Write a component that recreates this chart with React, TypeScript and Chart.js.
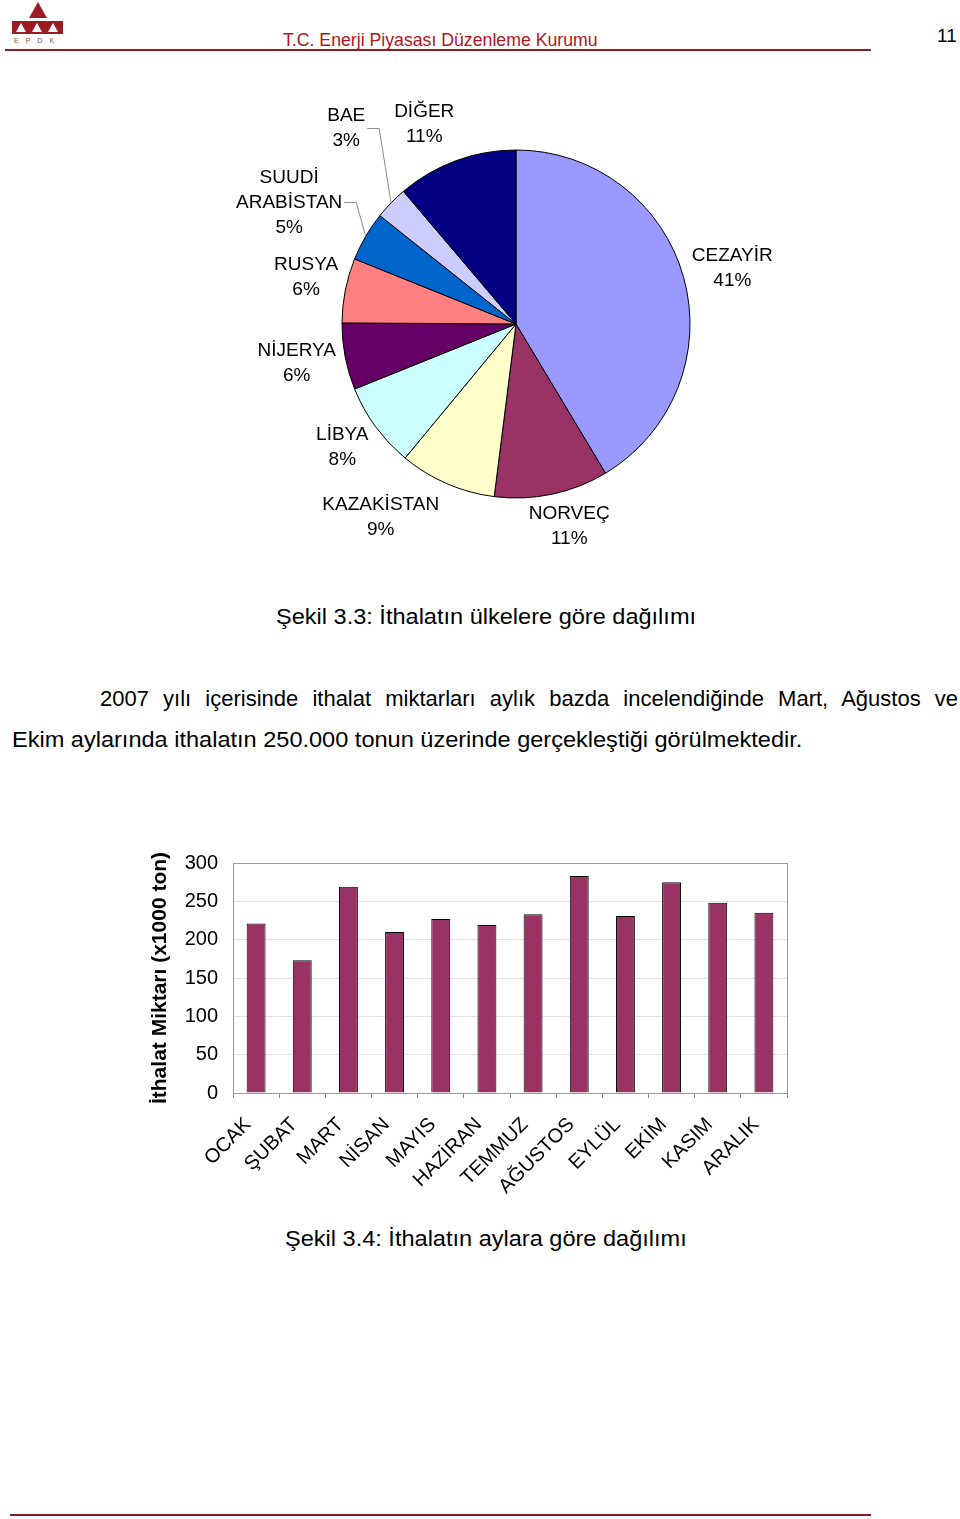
import React, { useEffect, useRef } from "react";
import { Chart, registerables } from "chart.js";

Chart.register(...registerables);

// ---------- data ----------
const countries = ["CEZAYİR", "NORVEÇ", "KAZAKİSTAN", "LİBYA", "NİJERYA", "RUSYA", "SUUDİ\nARABİSTAN", "BAE", "DİĞER"];
const shares = [41.4, 10.6, 9.0, 7.9, 6.2, 6.0, 4.6, 3.1, 11.2];
const pieColors = ["#9999FF", "#993366", "#FFFFCC", "#CCFFFF", "#660066", "#FF8080", "#0066CC", "#CCCCFF", "#000080"];

const months = ["OCAK", "ŞUBAT", "MART", "NİSAN", "MAYIS", "HAZİRAN", "TEMMUZ", "AĞUSTOS", "EYLÜL", "EKİM", "KASIM", "ARALIK"];
const imports = [221, 173, 269, 210, 227, 219, 233, 283, 231, 275, 248, 235];
const yTicks = [0, 50, 100, 150, 200, 250, 300];

// ---------- style ----------
const FONT = '"Liberation Sans", Arial, Helvetica, sans-serif';
const labelGap = 10;
const labelNudge: number[][] = [[0, 0], [7, -2], [-39, 1], [-4, 0], [0, 0], [2, -6], [-22, -10], [-24, -50], [-18, -4]];
const labelLeader = [false, false, false, false, false, false, true, true, false];

const pieLabelPlugin = {
  id: "pieLabels",
  afterDatasetsDraw(chart: any) {
    const ctx = chart.ctx;
    const meta = chart.getDatasetMeta(0);
    const lh = 25;
    ctx.save();
    ctx.font = `19px ${FONT}`;
    ctx.fillStyle = "#000";
    ctx.textAlign = "center";
    ctx.textBaseline = "middle";
    meta.data.forEach((arc: any, i: number) => {
      const p = arc.getProps(["x", "y", "startAngle", "endAngle", "outerRadius"], true);
      const mid = (p.startAngle + p.endAngle) / 2;
      const ux = Math.cos(mid);
      const uy = Math.sin(mid);
      const lines = [...countries[i].split("\n"), Math.round(shares[i]) + "%"];
      const w = Math.max(...lines.map((l) => ctx.measureText(l).width));
      const h = lines.length * lh;
      const ax = p.x + (p.outerRadius + labelGap) * ux;
      const ay = p.y + (p.outerRadius + labelGap) * uy;
      const cx = ax + (ux * w) / 2 + labelNudge[i][0];
      const cy = ay + (uy * h) / 2 + labelNudge[i][1];
      lines.forEach((l, k) => ctx.fillText(l, cx, cy - h / 2 + lh / 2 + k * lh));
      if (labelLeader[i]) {
        ctx.strokeStyle = "#8a8a8a";
        ctx.lineWidth = 1;
        ctx.beginPath();
        ctx.moveTo(cx + w / 2 + 2, cy);
        ctx.lineTo(cx + w / 2 + 14, cy);
        ctx.lineTo(p.x + p.outerRadius * ux, p.y + p.outerRadius * uy);
        ctx.stroke();
      }
    });
    ctx.restore();
  },
};

const framePlugin = {
  id: "frame",
  beforeDatasetsDraw(chart: any) {
    const { ctx, chartArea } = chart;
    ctx.save();
    ctx.strokeStyle = "#9a9a9a";
    ctx.lineWidth = 1;
    ctx.strokeRect(
      Math.round(chartArea.left) + 0.5,
      Math.round(chartArea.top) + 0.5,
      Math.round(chartArea.right - chartArea.left),
      Math.round(chartArea.bottom - chartArea.top)
    );
    ctx.restore();
  },
};

function PieChart() {
  const ref = useRef<HTMLCanvasElement>(null);
  useEffect(() => {
    const chart = new Chart(ref.current!, {
      type: "pie",
      data: {
        labels: countries,
        datasets: [
          {
            data: shares,
            backgroundColor: pieColors,
            borderColor: "#000",
            borderWidth: 1,
          },
        ],
      },
      options: {
        responsive: false,
        animation: false,
        radius: 174,
        layout: { padding: 0 },
        plugins: { legend: { display: false }, tooltip: { enabled: false } },
      } as any,
      plugins: [pieLabelPlugin],
    });
    return () => chart.destroy();
  }, []);
  return (
    <canvas
      ref={ref}
      width={600}
      height={480}
      style={{ position: "absolute", left: 216, top: 84, width: 600, height: 480 }}
    />
  );
}

function BarChart() {
  const ref = useRef<HTMLCanvasElement>(null);
  useEffect(() => {
    const tickFont = { family: FONT, size: 20 };
    const chart = new Chart(ref.current!, {
      type: "bar",
      data: {
        labels: months,
        datasets: [
          {
            data: imports,
            backgroundColor: "#993366",
            borderColor: "#000",
            borderWidth: 1,
            barPercentage: 0.41,
            categoryPercentage: 1,
          },
        ],
      },
      options: {
        responsive: false,
        animation: false,
        layout: { padding: { top: 19, right: 13, left: 0, bottom: 0 } },
        plugins: { legend: { display: false }, tooltip: { enabled: false } },
        scales: {
          x: {
            grid: { drawOnChartArea: false, drawTicks: true, tickLength: 5, color: "#8a8a8a", offset: true },
            border: { display: false },
            ticks: {
              font: { family: FONT, size: 20 },
              color: "#000",
              maxRotation: 45,
              minRotation: 45,
              autoSkip: false,
              padding: 15,
              labelOffset: -8,
            },
            afterFit(s: any) {
              s.height = 127;
            },
          },
          y: {
            min: 0,
            max: 300,
            afterBuildTicks(s: any) {
              s.ticks = yTicks.map((v) => ({ value: v }));
            },
            ticks: { font: tickFont, color: "#000", padding: 15 },
            grid: { color: "#e3e3e3", drawTicks: false },
            border: { display: false },
            title: {
              display: true,
              text: "İthalat Miktarı (x1000 ton)",
              font: { family: FONT, size: 21, weight: "bold" },
              color: "#000",
              padding: { top: 8, bottom: 0 },
            },
            afterFit(s: any) {
              s.width = 93;
            },
          },
        },
      } as any,
      plugins: [framePlugin],
    });
    return () => chart.destroy();
  }, []);
  return (
    <canvas
      ref={ref}
      width={660}
      height={384}
      style={{ position: "absolute", left: 140, top: 836, width: 660, height: 384 }}
    />
  );
}

function Logo() {
  const c = "#9b1c22";
  return (
    <svg width={80} height={48} style={{ position: "absolute", left: 0, top: 0 }}>
      <polygon points="38,2 29,18 47,18" fill={c} />
      <rect x={12} y={21} width={51} height={13} fill={c} />
      <polygon points="21,23 16,32 26,32" fill="#fff" />
      <polygon points="37,23 32,32 42,32" fill="#fff" />
      <polygon points="53,23 48,32 58,32" fill="#fff" />
      <text x={14} y={43} fontSize={7} fill="#7a5050" fontFamily={FONT} letterSpacing={7}>
        EPDK
      </text>
    </svg>
  );
}

export default function App() {
  const textStyle: React.CSSProperties = {
    position: "absolute",
    fontFamily: FONT,
    color: "#000",
    whiteSpace: "nowrap",
  };
  const wide: React.CSSProperties = {
    ...textStyle,
    fontSize: 22,
    lineHeight: "26px",
    transform: "scaleX(1.07)",
    transformOrigin: "0 0",
  };
  return (
    <div style={{ position: "relative", width: 960, height: 1519, overflow: "hidden", background: "#fff" }}>
      <style>{`body{margin:0}`}</style>
      <Logo />
      <div style={{ ...textStyle, left: 283, top: 30, fontSize: 17.7, lineHeight: "20px", color: "#b3141c" }}>
        T.C. Enerji Piyasası Düzenleme Kurumu
      </div>
      <div style={{ ...textStyle, left: 937, top: 25, fontSize: 19, lineHeight: "22px" }}>11</div>
      <div style={{ position: "absolute", left: 5, top: 49, width: 866, height: 2, background: "#8b1e24" }} />

      <PieChart />

      <div style={{ ...wide, left: 276, top: 604 }}>Şekil 3.3: İthalatın ülkelere göre dağılımı</div>

      <div
        style={{
          ...textStyle,
          left: 100,
          top: 686,
          width: 858,
          fontSize: 22,
          lineHeight: "26px",
          textAlign: "justify",
          textAlignLast: "justify",
        }}
      >
        2007 yılı içerisinde ithalat miktarları aylık bazda incelendiğinde Mart, Ağustos ve
      </div>
      <div style={{ ...wide, left: 12, top: 727 }}>
        Ekim aylarında ithalatın 250.000 tonun üzerinde gerçekleştiği görülmektedir.
      </div>

      <BarChart />

      <div style={{ ...wide, left: 285, top: 1226 }}>Şekil 3.4: İthalatın aylara göre dağılımı</div>

      <div style={{ position: "absolute", left: 10, top: 1514, width: 861, height: 2, background: "#8b1e24" }} />
    </div>
  );
}
